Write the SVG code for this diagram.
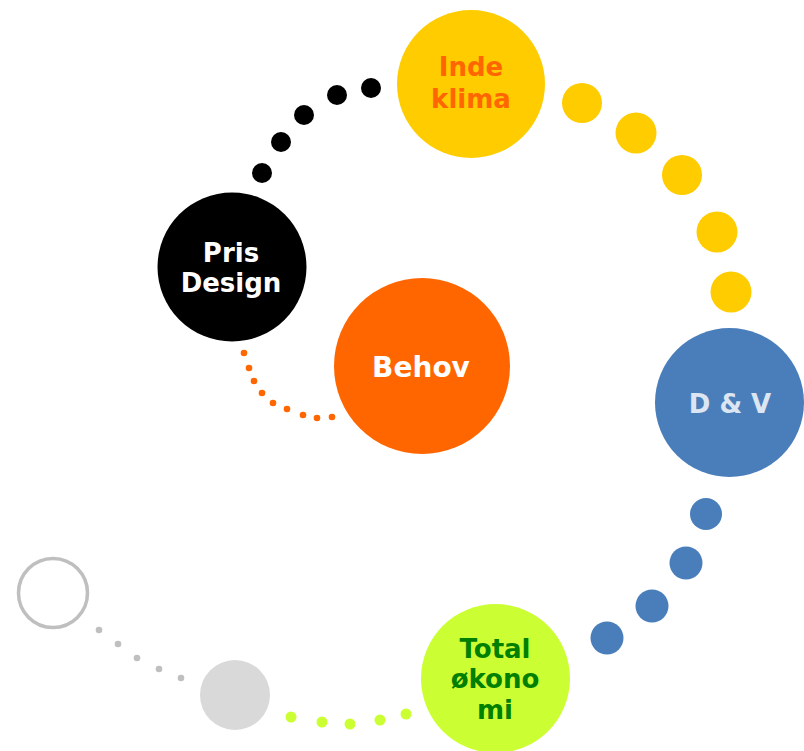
<svg xmlns="http://www.w3.org/2000/svg" width="804" height="751" viewBox="0 0 804 751">
<style>
  text { font-family: "DejaVu Sans", Verdana, sans-serif; font-weight: bold; text-anchor: middle; }
  .lbl { font-size: 26px; }
  .big { font-size: 28px; }
  .blk { fill: #000000; }
  .yel { fill: #FFCC00; }
  .org { fill: #FF6600; }
  .blu { fill: #4A7EBB; }
  .grn { fill: #CCFF33; }
  .gry { fill: #BFBFBF; }
</style>
<rect x="0" y="0" width="804" height="751" fill="#ffffff"/>
<g id="connectors">
  <g class="blk">
    <circle cx="371" cy="88" r="10"/>
    <circle cx="337" cy="95" r="10"/>
    <circle cx="304" cy="115" r="10"/>
    <circle cx="281" cy="142" r="10"/>
    <circle cx="262" cy="173" r="10"/>
  </g>
  <g class="yel">
    <circle cx="582" cy="103" r="20"/>
    <circle cx="636" cy="133" r="20.5"/>
    <circle cx="682" cy="175" r="20"/>
    <circle cx="717" cy="232" r="20.5"/>
    <circle cx="731" cy="292" r="20.5"/>
  </g>
  <g class="blu">
    <circle cx="706" cy="514" r="16"/>
    <circle cx="686" cy="563" r="16.5"/>
    <circle cx="652" cy="606" r="16.5"/>
    <circle cx="607" cy="638" r="16.5"/>
  </g>
  <g class="grn">
    <circle cx="291" cy="717" r="5.5"/>
    <circle cx="322" cy="722" r="5.5"/>
    <circle cx="350" cy="724" r="5.5"/>
    <circle cx="380" cy="720" r="5.5"/>
    <circle cx="406" cy="714" r="5.5"/>
  </g>
  <g class="gry">
    <circle cx="99" cy="630" r="3.3"/>
    <circle cx="118" cy="644" r="3.3"/>
    <circle cx="137" cy="658" r="3.3"/>
    <circle cx="159" cy="669" r="3.3"/>
    <circle cx="181" cy="678" r="3.3"/>
  </g>
  <g class="org">
    <circle cx="244" cy="353" r="3.3"/>
    <circle cx="249" cy="368" r="3.3"/>
    <circle cx="254" cy="381" r="3.3"/>
    <circle cx="262" cy="393" r="3.3"/>
    <circle cx="273" cy="403" r="3.3"/>
    <circle cx="287" cy="409" r="3.3"/>
    <circle cx="303" cy="415" r="3.3"/>
    <circle cx="317" cy="418" r="3.3"/>
    <circle cx="332" cy="417" r="3.3"/>
  </g>
</g>
<g id="inde-klima">
  <circle cx="471" cy="84" r="74" class="yel"/>
  <text class="lbl" x="471" y="76" fill="#FF6600">Inde</text>
  <text class="lbl" x="471" y="108" fill="#FF6600">klima</text>
</g>
<g id="pris-design">
  <circle cx="232" cy="267" r="74.5" class="blk"/>
  <text class="lbl" x="231" y="262" fill="#ffffff">Pris</text>
  <text class="lbl" x="231" y="292" fill="#ffffff">Design</text>
</g>
<g id="behov">
  <circle cx="422" cy="366" r="88" class="org"/>
  <text class="big" x="421" y="377" fill="#ffffff">Behov</text>
</g>
<g id="dv">
  <circle cx="729.5" cy="402.5" r="74.5" class="blu"/>
  <text class="lbl" x="730" y="413" fill="#DCE6F2">D &amp; V</text>
</g>
<g id="total-okonomi">
  <circle cx="495.5" cy="678.5" r="74.5" class="grn"/>
  <text class="lbl" x="495" y="658" fill="#008000">Total</text>
  <text class="lbl" x="495" y="688" fill="#008000">økono</text>
  <text class="lbl" x="495" y="719" fill="#008000">mi</text>
</g>
<g id="grey-filled">
  <circle cx="235" cy="695" r="35" fill="#D9D9D9"/>
</g>
<g id="grey-outline">
  <circle cx="53" cy="593" r="34.5" fill="#ffffff" stroke="#BFBFBF" stroke-width="3.5"/>
</g>
</svg>
